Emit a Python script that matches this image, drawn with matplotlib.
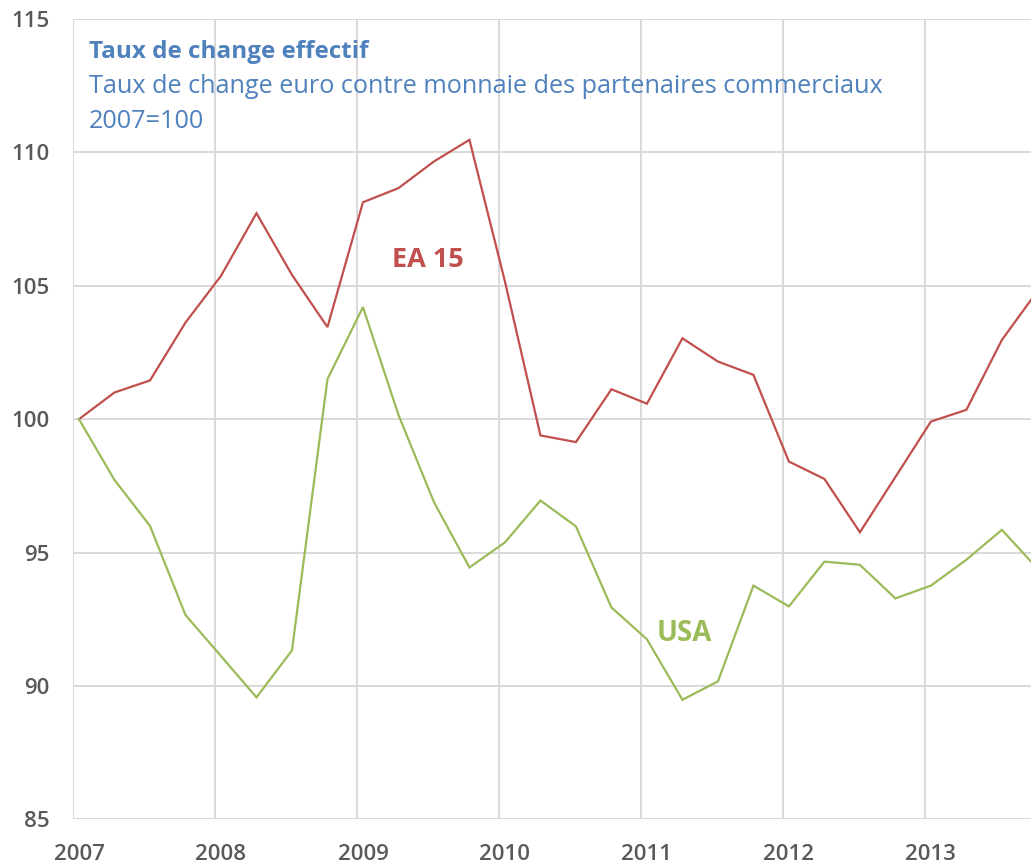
import matplotlib
matplotlib.use("Agg")
import matplotlib.pyplot as plt
import numpy as np

years = ["2007", "2008", "2009", "2010", "2011", "2012", "2013"]
ea15 = [100.0, 101.0, 101.45, 103.62, 105.37, 107.72, 105.41, 103.45,
        108.13, 108.66, 109.66, 110.47, 105.16, 99.39, 99.14, 101.12,
        100.58, 103.03, 102.16, 101.66, 98.41, 97.76, 95.76, 97.83,
        99.91, 100.35, 102.97, 104.8]
usa = [100.0, 97.72, 96.0, 92.66, 91.12, 89.57, 91.33, 101.5,
       104.2, 100.16, 96.89, 94.44, 95.38, 96.95, 95.98, 92.94,
       91.75, 89.48, 90.17, 93.76, 92.98, 94.66, 94.54, 93.28,
       93.76, 94.73, 95.85, 94.4]
yticks = [85, 90, 95, 100, 105, 110, 115]

plt.rcParams['font.family'] = ['Open Sans', 'DejaVu Sans']

W, H = 1031, 864
fig = plt.figure(figsize=(W / 100, H / 100), dpi=100)
left_px, top_px, bottom_px = 73.3, 19.0, 819.3
ax = fig.add_axes([left_px / W, 1 - bottom_px / H, 1 - left_px / W, (bottom_px - top_px) / H])

x = np.arange(len(ea15))
red = '#C0504D'
green = '#9BBB59'
gridc = '#D9D9D9'
ax.plot(x, ea15, color=red, lw=1.6, solid_joinstyle='miter', zorder=3, clip_on=True)
ax.plot(x, usa, color=green, lw=1.6, solid_joinstyle='miter', zorder=3, clip_on=True)

ax.set_xlim(-0.16, 26.82)
ax.set_ylim(85, 115)

ax.set_yticks(yticks)
ax.set_yticklabels([str(v) for v in yticks])
ax.set_xticks([4 * k for k in range(len(years))])
ax.set_xticklabels(years)

for yv in yticks:
    ax.axhline(yv, color=gridc, lw=1.4, zorder=1)
for k in range(len(years)):
    ax.axvline(4 * k - 0.16, color=gridc, lw=1.4, zorder=1)

for s in ['top', 'right', 'left', 'bottom']:
    ax.spines[s].set_visible(False)

ax.tick_params(axis='both', which='both', length=0, labelsize=16, labelcolor='#595959')
ax.tick_params(axis='y', pad=17)
ax.tick_params(axis='x', pad=18)
for lab in ax.get_xticklabels() + ax.get_yticklabels():
    lab.set_fontweight('semibold')

blue = '#4F81BD'
fig.text(89 / W, 1 - 58 / H, "Taux de change effectif", color=blue, fontsize=17.5,
         fontweight='bold', ha='left', va='baseline')
fig.text(89 / W, 1 - 93 / H, "Taux de change euro contre monnaie des partenaires commerciaux",
         color=blue, fontsize=18.2, ha='left', va='baseline')
fig.text(89 / W, 1 - 128 / H, "2007=100", color=blue, fontsize=18.2, ha='left', va='baseline')

ax.text(9.83, 105.97, "EA 15", color=red, fontsize=19.5, fontweight='bold', ha='center', va='center')
ax.text(17.04, 91.95, "USA", color=green, fontsize=20, fontweight='bold', ha='center', va='center')

fig.savefig("out.png", dpi=100)
